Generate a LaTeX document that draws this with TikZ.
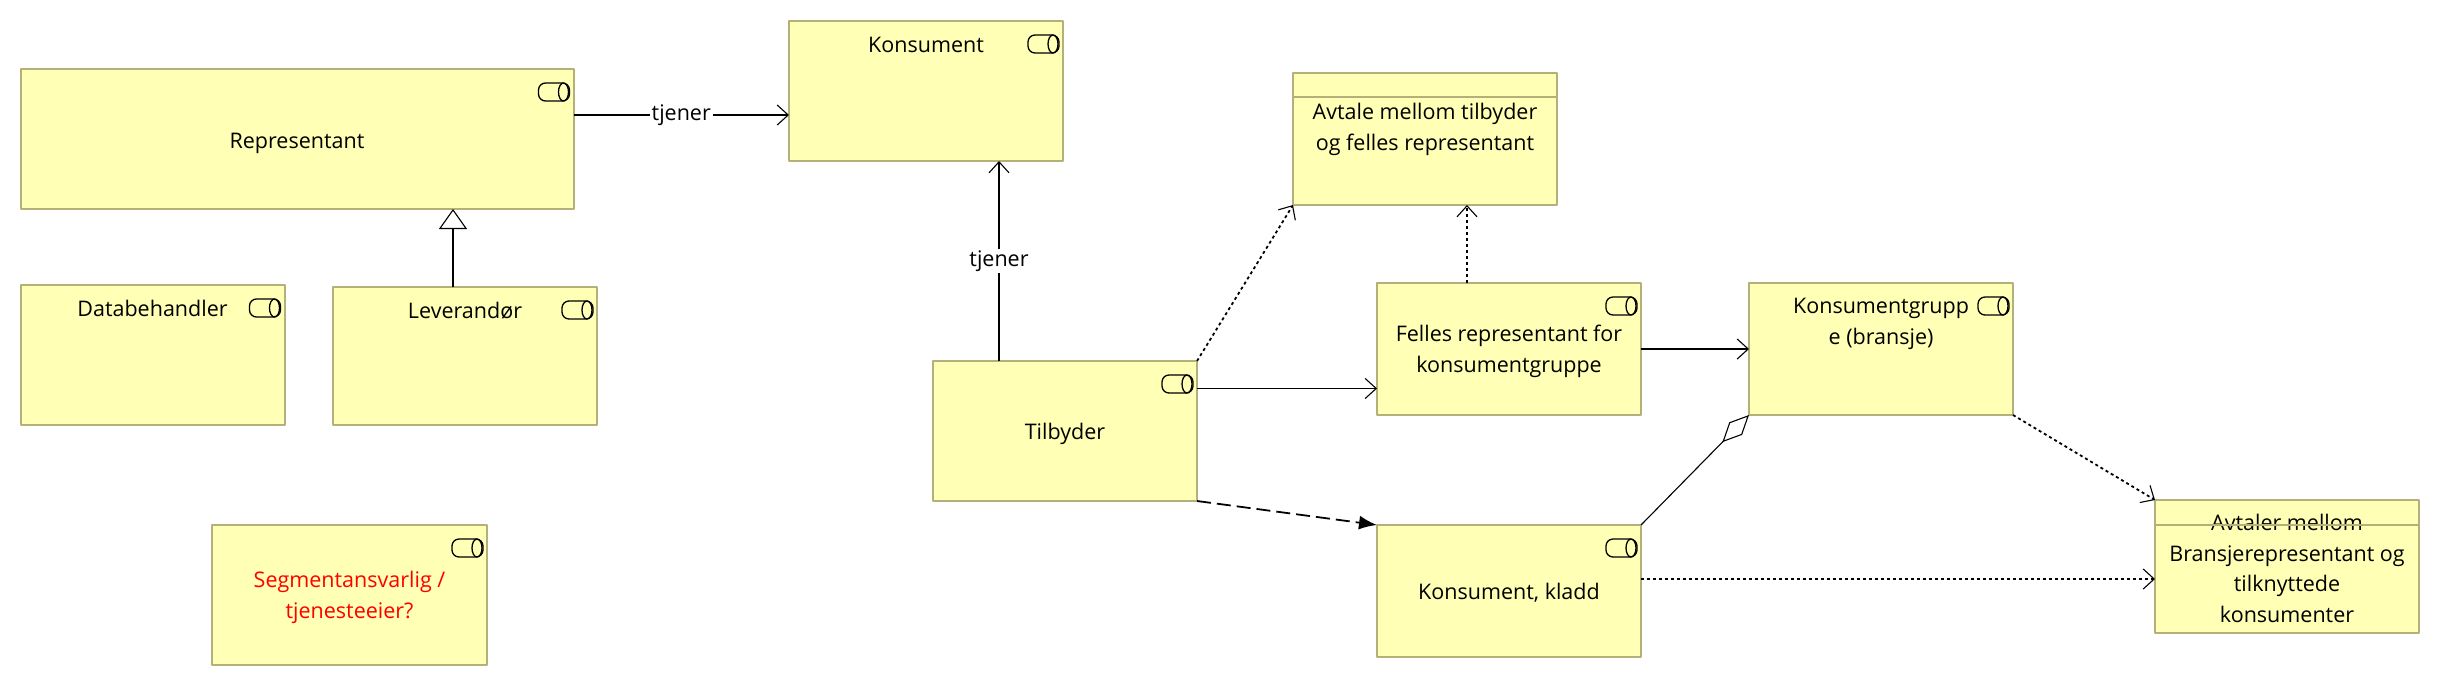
\documentclass[tikz,border=0pt]{standalone}
\usepackage{fontspec}
\setmainfont{Open Sans}
\usetikzlibrary{arrows.meta}

\definecolor{box_fill}{HTML}{FFFFB5}
\definecolor{box_line}{HTML}{B3B07A}

\begin{document}
\begin{tikzpicture}[x=1pt, y=-1pt, line join=bevel]

	% \w and \h are the size of the most common box
	\pgfmathsetmacro{\w}{264}
	\pgfmathsetmacro{\h}{140}

	\tikzset{%
	  box/.style n args  = {3}{draw=box_line, fill=box_fill, line width=2pt, anchor=north west,
	                        inner sep=0pt, outer sep=0pt,
	                        align=center, font=\fontsize{21.5}{30.4}\selectfont,
	                        minimum width=#1 pt, minimum height=#2 pt, text height=#3 pt},
	  edge_line/.style   = {line width=1.8pt, draw=black},
	  edge_open/.style   = {edge_line, -{Straight Barb[length=11pt, width=20pt, line width=1.1pt]}},
	  edge_dots/.style   = {edge_open, dash pattern=on 3pt off 3pt},
	  edge_label/.style  = {fill=white, inner sep=2pt, font=\fontsize{21.5}{26}\selectfont},
	  service_icon/.pic  = {
	    \draw[line width=1.3pt, rounded corners=7pt] (0,0) rectangle (31,18);
	    \draw[line width=1.3pt] (25,9) ellipse [x radius=5, y radius=9];
	  }
	}

	\useasboundingbox (0,0) rectangle (2440,686);

	% elements
	\node[box={553}{140}{79}, text depth=61pt]  (representant) at (20.5,69)  {Representant};
	\node[box={\w}{\h}{31}, text depth=109pt]   (databehandler) at (20.5,285) {Databehandler};
	\node[box={\w}{138}{31}, text depth=107pt]  (leverandor) at (333,287)    {Leverandør};
	\node[box={275}{\h}{93}, text depth=47pt, text=red] (segment) at (212,525) {Segmentansvarlig /\\tjenesteeier?};
	\node[box={274}{\h}{31}, text depth=109pt]  (konsument) at (789,21)      {Konsument};
	\node[box={\w}{\h}{78}, text depth=62pt]    (tilbyder) at (933,361)      {Tilbyder};
	\node[box={\w}{132}{77}, text depth=55pt]   (avtale) at (1293,73)        {Avtale mellom tilbyder\\og felles representant};
	\node[box={\w}{132}{89}, text depth=43pt]   (felles) at (1377,283)       {Felles representant for\\konsumentgruppe};
	\node[box={\w}{132}{74}, text depth=58pt]   (kladd) at (1377,525)        {Konsument, kladd};
	\node[box={\w}{132}{61}, text depth=71pt]   (bransje) at (1749,283)      {Konsumentgrupp\\e (bransje)};
	\node[box={\w}{133}{122}, text depth=11pt]  (avtaler) at (2155,500)      {Avtaler mellom\\Bransjerepresentant og\\tilknyttede\\konsumenter};

	% header lines of the two contracts
	\draw[draw=box_line, line width=2pt] ([yshift=-24pt]avtale.north west)  -- ([yshift=-24pt]avtale.north east);
	\draw[draw=box_line, line width=2pt] ([yshift=-25pt]avtaler.north west) -- ([yshift=-25pt]avtaler.north east);

	\foreach \elem in {representant, databehandler, leverandor, segment, konsument, tilbyder, felles, kladd, bransje}{
	  \pic at ([shift={(-35,14)}]\elem.north east) {service_icon};
	}

	% relations
	\draw[edge_open] ([yshift=24pt]representant.east) -- node[edge_label] (tjener_a) {tjener} ([yshift=-24pt]konsument.west);
	\draw[edge_open] ([xshift=-66pt]tilbyder.north) -- node[edge_label, pos=0.5] (tjener_b) {tjener} ([xshift=73pt]konsument.south);
	\draw[edge_line, -{Triangle[open, fill=white, length=20pt, width=28pt, line width=1.1pt]}]
	  ([xshift=-12pt]leverandor.north) -- ([xshift=156pt]representant.south);
	\draw[edge_open] ([yshift=42.5pt]tilbyder.east) -- ([yshift=-39.5pt]felles.west);
	\draw[edge_open] (felles.east) -- (bransje.west);
	\draw[edge_dots] (tilbyder.north east) -- (avtale.south west);
	\draw[edge_dots] ([xshift=-42pt]felles.north) -- ([xshift=42pt]avtale.south);
	\draw[edge_dots] (bransje.south east) -- (avtaler.north west);
	\draw[edge_dots] ([yshift=12pt]kladd.east) -- ([yshift=-12.5pt]avtaler.west);
	\draw[edge_line, dash pattern=on 14pt off 6pt, -{Latex[length=18pt, width=14pt]}] (tilbyder.south east) -- (kladd.north west);
	\draw[edge_line, line width=1.1pt, -{Diamond[open, fill=white, length=38pt, width=18pt, line width=1.1pt]}]
	  (kladd.north east) -- (bransje.south west);

\end{tikzpicture}
\end{document}
